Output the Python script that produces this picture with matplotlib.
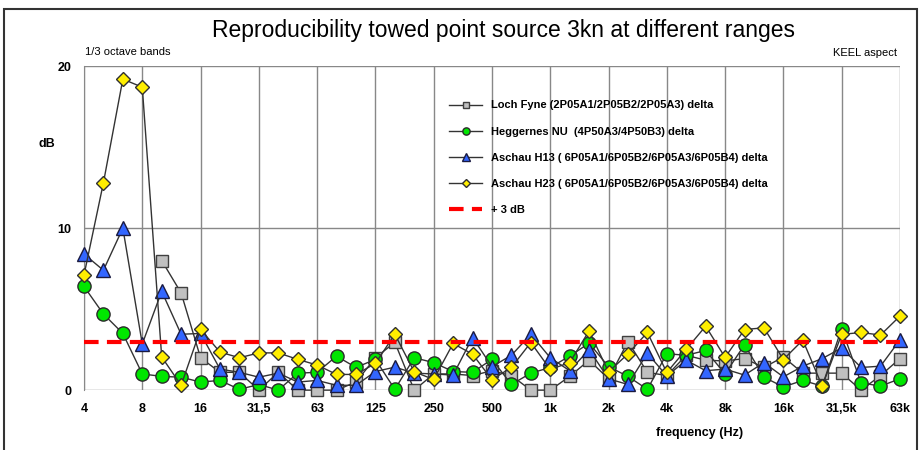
import numpy as np
import matplotlib
matplotlib.use('Agg')
import matplotlib.pyplot as plt
from matplotlib.patches import Rectangle

plt.rcParams['font.family'] = ['Liberation Sans', 'DejaVu Sans']

# 1/3 octave bands, 4 Hz .. 63 kHz
bands = ['4', '5', '6,3', '8', '10', '12,5', '16', '20', '25', '31,5', '40', '50', '63',
         '80', '100', '125', '160', '200', '250', '315', '400', '500', '630', '800', '1k',
         '1,25k', '1,6k', '2k', '2,5k', '3,15k', '4k', '5k', '6,3k', '8k', '10k', '12,5k',
         '16k', '20k', '25k', '31,5k', '40k', '50k', '63k']
tick_labels = ['4', '8', '16', '31,5', '63', '125', '250', '500', '1k', '2k', '4k', '8k',
               '16k', '31,5k', '63k']

nan = np.nan
loch_fyne = [nan, nan, nan, nan, 8.0, 6.0, 2.0, 1.1, 1.1, 0.0, 1.1, 0.0, 0.0, 0.0, 0.5,
             2.0, 2.95, 0.0, 1.0, 1.0, 0.9, 1.2, 0.9, 0.0, 0.0, 0.85, 1.85, 0.7, 3.0, 1.1,
             0.9, 2.15, 1.85, 1.8, 1.95, 1.4, 2.05, 1.05, 1.05, 1.05, 0.0, 0.9, 1.95]
heggernes = [6.4, 4.7, 3.5, 1.0, 0.85, 0.8, 0.5, 0.6, 0.05, 0.35, 0.0, 1.05, 1.1, 2.1,
             1.4, 1.9, 0.05, 2.0, 1.7, 1.15, 1.1, 1.9, 0.35, 1.05, 1.4, 2.1, 2.9, 1.45,
             0.85, 0.05, 2.25, 2.15, 2.45, 1.0, 2.8, 0.8, 0.2, 0.6, 0.25, 3.8, 0.45, 0.25, 0.7]
aschau_h13 = [8.4, 7.4, 10.0, 2.85, 6.1, 3.45, 3.5, 1.3, 1.1, 0.8, 1.05, 0.5, 0.6, 0.3,
              0.3, 1.15, 1.42, 1.05, 1.0, 0.93, 3.25, 1.45, 2.15, 3.45, 2.0, 1.2, 2.5, 0.7,
              0.35, 2.28, 0.87, 1.85, 1.2, 1.3, 0.93, 1.7, 0.82, 1.48, 1.95, 2.6, 1.4, 1.48, 3.1]
aschau_h23 = [7.1, 12.8, 19.2, 18.7, 2.05, 0.3, 3.75, 2.35, 2.0, 2.3, 2.3, 1.9, 1.55, 0.97,
              0.97, 1.65, 3.45, 1.13, 0.66, 2.88, 2.22, 0.65, 1.4, 2.94, 1.28, 1.7, 3.66,
              1.12, 2.24, 3.56, 1.09, 2.52, 3.95, 2.02, 3.74, 3.85, 1.89, 3.09, 0.25, 3.44,
              3.56, 3.4, 4.57]
limit_3db = [3.0] * len(bands)

x = np.arange(len(bands))

fig = plt.figure(figsize=(9.23, 4.5), dpi=100)
ax = fig.add_axes([0.091, 0.133, 0.884, 0.72])

ln = '#333333'
ax.plot(x, loch_fyne, '-s', color=ln, lw=1, mfc='#c0c0c0', mec='#404040', ms=8.5,
        label='Loch Fyne (2P05A1/2P05B2/2P05A3) delta', zorder=3, clip_on=False)
ax.plot(x, heggernes, '-o', color=ln, lw=1, mfc='#00e600', mec='#2a2a2a', ms=9.5,
        label='Heggernes NU  (4P50A3/4P50B3) delta', zorder=4, clip_on=False)
ax.plot(x, aschau_h13, '-^', color=ln, lw=1, mfc='#3366ff', mec='#1a1a40', ms=10,
        label='Aschau H13 ( 6P05A1/6P05B2/6P05A3/6P05B4) delta', zorder=5, clip_on=False)
ax.plot(x, aschau_h23, '-D', color=ln, lw=1, mfc='#ffee00', mec='#303030', ms=7.5,
        label='Aschau H23 ( 6P05A1/6P05B2/6P05A3/6P05B4) delta', zorder=6, clip_on=False)
ax.plot(x, limit_3db, '--', color='#ff0000', lw=3, dashes=(3.5, 2),
        label='+ 3 dB', zorder=7)

ax.set_xlim(0, len(bands) - 1)
ax.set_ylim(0, 20)
ax.set_xticks(x[::3])
ax.set_xticklabels(tick_labels, fontweight='bold', fontsize=9)
ax.set_yticks([0, 10, 20])
ax.set_yticklabels(['0', '10', '20'], fontweight='bold', fontsize=9)
ax.tick_params(length=0, pad=9)
ax.grid(True, color='#888888', lw=1)
for s in ax.spines.values():
    s.set_visible(False)
ax.spines['left'].set_visible(True)
ax.spines['left'].set_color('#888888')

ax.set_xlabel('frequency (Hz)', fontweight='bold', fontsize=9)
ax.xaxis.set_label_coords(0.755, -0.115)
ax.text(-0.045, 0.76, 'dB', transform=ax.transAxes, fontweight='bold', fontsize=9,
        ha='center', va='center')

fig.text(0.546, 0.932, 'Reproducibility towed point source 3kn at different ranges',
         ha='center', va='center', fontsize=16.5)
fig.text(0.092, 0.885, '1/3 octave bands', ha='left', va='center', fontsize=8)
fig.text(0.972, 0.882, 'KEEL aspect', ha='right', va='center', fontsize=8)

leg = ax.legend(loc='upper left', bbox_to_anchor=(0.435, 0.925), frameon=False,
                prop={'weight': 'bold', 'size': 8}, labelspacing=1.45,
                handlelength=3, markerscale=0.55)

fig.add_artist(Rectangle((0.004, -0.02), 0.989, 1.0, transform=fig.transFigure,
                         fill=False, edgecolor='#333333', lw=1.5))

fig.savefig('out.png', dpi=100)
